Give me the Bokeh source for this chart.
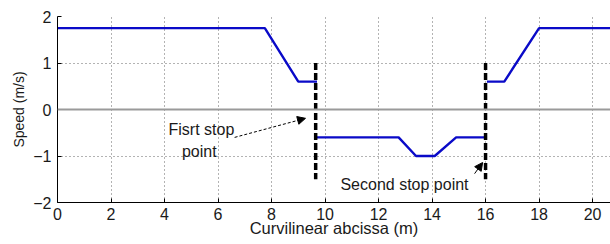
from bokeh.plotting import figure
from bokeh.models import Range1d, Label, Arrow, NormalHead, Span, FixedTicker
from bokeh.embed import file_html
from bokeh.resources import INLINE

# Speed profile (three segments separated by stop points)
seg1_x = [0, 7.75, 9.0, 9.7]
seg1_y = [1.75, 1.75, 0.6, 0.6]
seg2_x = [9.7, 12.75, 13.4, 14.1, 14.9, 16.0]
seg2_y = [-0.6, -0.6, -1.0, -1.0, -0.6, -0.6]
seg3_x = [16.05, 16.7, 18.0, 21.0]
seg3_y = [0.6, 0.6, 1.75, 1.75]

stop_x = [9.65, 16.0]
stop_top = [1.0, 1.0]
stop_bottom = [-1.5, -1.5]

x_ticks = [0, 2, 4, 6, 8, 10, 12, 14, 16, 18, 20]
y_ticks = [-2, -1, 0, 1, 2]

FONT = "Liberation Sans"

p = figure(width=610, height=244, output_backend="svg", toolbar_location=None,
           x_range=Range1d(0, 20.67), y_range=Range1d(-2, 2),
           min_border_left=57, min_border_top=16, min_border_right=0, min_border_bottom=42)
p.outline_line_color = None
p.background_fill_color = "white"

# Grid
for g in (p.xgrid, p.ygrid):
    g.grid_line_color = "#666666"
    g.grid_line_dash = "1 3"
    g.grid_line_width = 1
p.xaxis.ticker = FixedTicker(ticks=x_ticks)
p.yaxis.ticker = FixedTicker(ticks=y_ticks)

for ax in (p.xaxis, p.yaxis):
    ax.axis_line_color = "black"
    ax.axis_line_width = 1
    ax.major_tick_in = 4
    ax.major_tick_out = 0
    ax.minor_tick_line_color = None
    ax.major_tick_line_color = "black"
    ax.major_label_text_font = FONT
    ax.major_label_text_font_size = "16px"
    ax.major_label_text_color = "#1a1a1a"
    ax.axis_label_text_font = FONT
    ax.axis_label_text_font_style = "normal"
    ax.axis_label_text_color = "#1a1a1a"

p.xaxis.axis_label = "Curvilinear abcissa (m)"
p.xaxis.axis_label_text_font_size = "16.5px"
p.xaxis.major_label_standoff = 5
p.xaxis.axis_label_standoff = -4
p.yaxis.axis_label = "Speed (m/s)"
p.yaxis.axis_label_text_font_size = "14px"
p.yaxis.major_label_standoff = 6
p.yaxis.axis_label_standoff = 3

# zero line
p.add_layout(Span(location=0, dimension="width", line_color="#9a9a9a", line_width=2))

blue = "#0a0ac8"
for xs, ys in ((seg1_x, seg1_y), (seg2_x, seg2_y), (seg3_x, seg3_y)):
    p.line(xs, ys, line_color=blue, line_width=2.4)

p.segment(x0=stop_x, y0=stop_top, x1=stop_x, y1=stop_bottom,
          line_color="black", line_width=3.5, line_dash="7 3")

# Annotations
txt = dict(text_font=FONT, text_font_size="16px", text_color="#1a1a1a",
           text_align="center", text_baseline="middle")
p.add_layout(Label(x=5.38, y=-0.43, text="Fisrt stop", **txt))
p.add_layout(Label(x=5.3, y=-0.90, text="point", **txt))
p.add_layout(Label(x=12.97, y=-1.61, text="Second stop point", **txt))

p.add_layout(Arrow(x_start=6.62, y_start=-0.60, x_end=9.27, y_end=-0.19,
                   line_color="black", line_width=1, line_dash="3 2",
                   end=NormalHead(size=8, fill_color="black", line_color="black", line_width=1)))
p.add_layout(Arrow(x_start=15.59, y_start=-1.38, x_end=15.89, y_end=-1.14,
                   line_color="black", line_width=1,
                   end=NormalHead(size=8, fill_color="black", line_color="black", line_width=1)))

open("out.html", "w").write(file_html(p, INLINE))
